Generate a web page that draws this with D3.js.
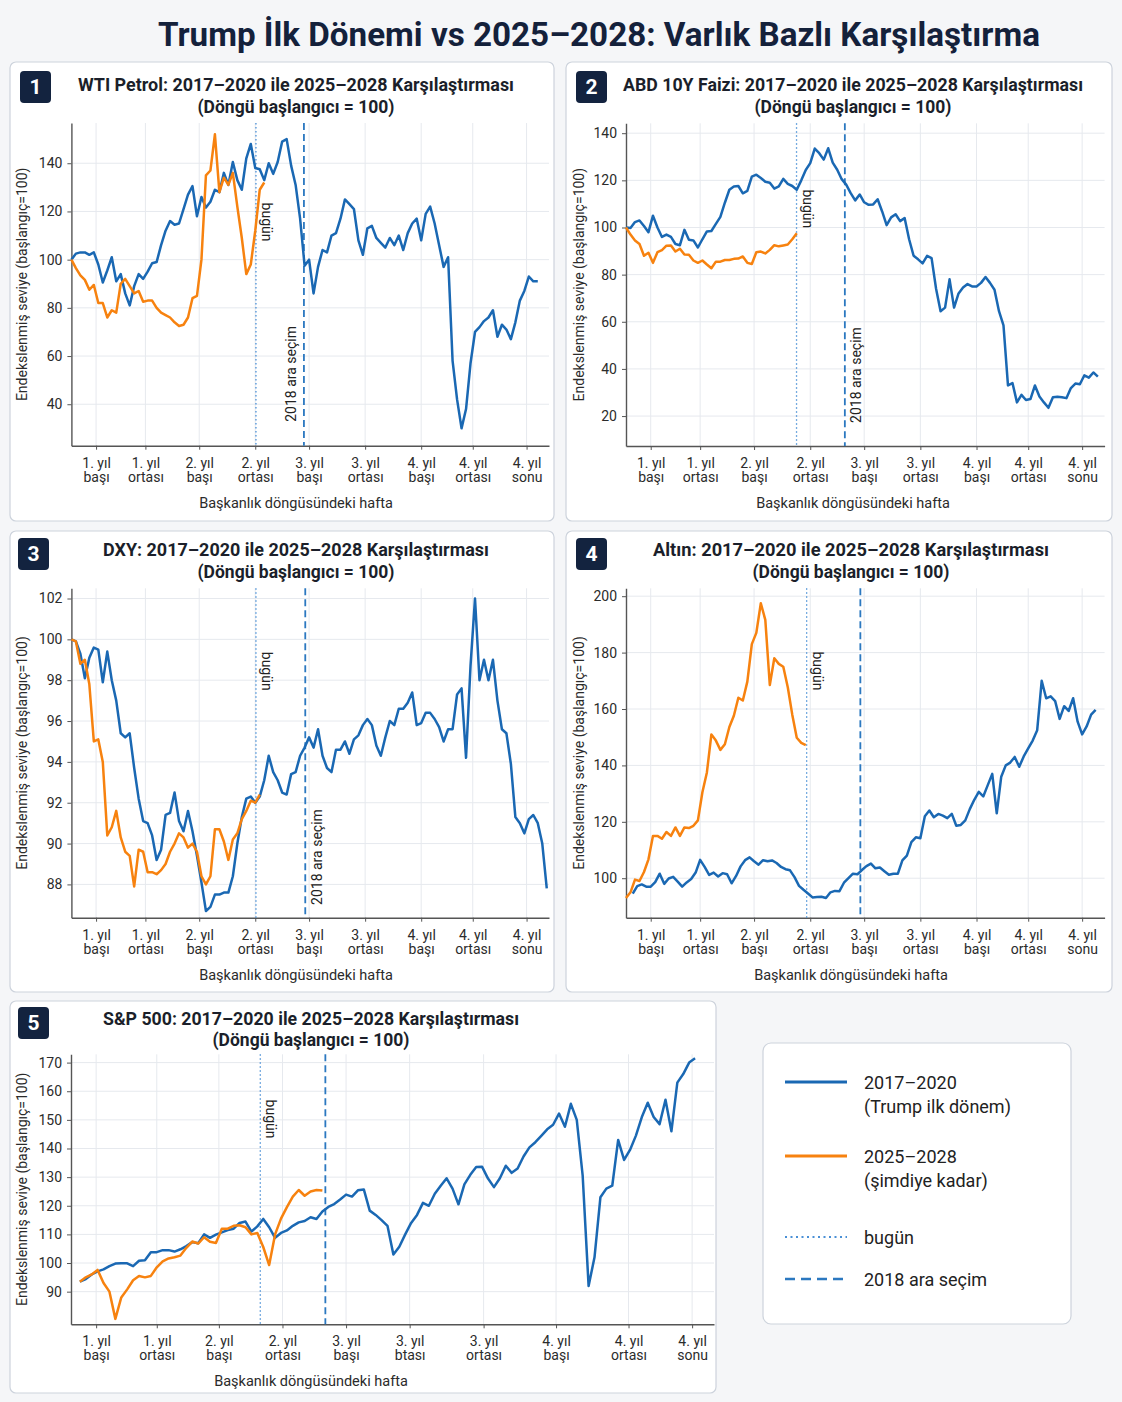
<!DOCTYPE html>
<html lang="tr">
<head>
<meta charset="UTF-8">
<title>Trump İlk Dönemi vs 2025–2028</title>
<script src="https://d3js.org/d3.v7.min.js"></script>
<style>
  body { margin: 0; background: #f5f6f8; }
  svg { display: block; font-family: Roboto, "Noto Sans", sans-serif; }
</style>
</head>
<body>
<script>
// ---- data: indexed level, one value every 2 weeks of the presidential cycle ----
const STEP = 2;

const wtiBlue = [100,102.5,103,103,102,103,98,90.5,95.5,101,91,94,86,81,89,94,92,95,98.5,99,106,112,116,114.5,115,121,127,130.5,118,126,121.6,124,129,128,136,131,140.5,133,129,142,148,138,137.5,133,140,135.6,140.5,149,150,139,131,117,97.5,100,86,97,104,103,110,111,117,125,123,121,108,102,113,114,109,107,105,109,106,110,104,111,115,117,108,119,122,115,106,97,101,58,42,30,38,57,70,72,74.5,76,79,68,73,71,67,74,83,87,93,91,91];
const wtiOrange = [100,96.5,93.5,91.6,87.5,89.5,82,82,76,79,78,90,92,89,86,87,82.5,83,83,80,78,77,76,74,72.5,73,76,84,85,100,135,137,152,128,134,131,136,122,109,94,98,112,129,132];

const yieldBlue = [100,99.8,102.3,103,100.6,98,105,100,96,97,96,93,92.5,99,94.8,94.5,91.5,95,98.3,98.5,101.5,104.5,110.5,116,117.4,117.6,114.5,115.5,121.6,122.4,121,119.4,119,116.5,117.4,120.6,118.5,117.6,116,120,124.4,127.3,133.5,131.5,128.8,133.6,127.5,124.5,120.5,118.2,114.6,111.5,114,110.7,109.6,109.8,112,106.8,101,104.3,105.6,102.7,104,95,88,86.5,84.8,88,87,74,64.5,66,78,66,72,74.5,76,75,75,76.5,79,76.5,73.6,64.5,58.5,33,34,25.8,29,26.8,27.2,33,28.3,25.8,23.5,28,28.2,28,27.6,31.9,33.8,33.5,37.3,36.3,38.5,36.7];
const yieldOrange = [100,97,94.5,93,88,89.3,85,89.5,90.4,92.3,92.4,89.8,91,88.5,88.4,86,85,86,84.3,82.7,85.5,85.5,86.2,86.2,86.7,86.8,87.7,85,84.5,89.5,89.8,89,90.5,92.5,92,92.4,92.8,95,97.6];

const dxyBlue = [100,99.9,99.3,98.1,99.1,99.6,99.5,97.9,99.4,98,97,95.4,95.2,95.4,93.7,92.2,91.1,91,90.4,89.2,89.7,91.4,91.5,92.5,91.1,90.6,91.6,90.6,89.4,88.1,86.7,86.9,87.5,87.5,87.6,87.6,88.4,90,91.3,92.2,92.3,92,92.3,93.1,94.3,93.5,93.1,92.5,92.4,93.4,93.5,94.3,94.7,95.2,94.7,95.6,94.3,93.7,93.5,94.6,94.6,95,94.4,95.1,95.3,95.8,96.1,95.8,94.8,94.3,95.2,96,95.8,96.6,96.6,96.9,97.4,95.8,95.9,96.4,96.4,96.1,95.7,95,95.6,95.6,97.3,97.6,94.2,98.7,102,98,99,98,99,97,95.6,95.4,93.9,91.3,91,90.5,91.2,91.4,91,90,87.8];
const dxyOrange = [100,99.9,98.8,99,97.8,95,95.1,94,90.4,90.8,91.6,90.3,89.6,89.4,87.9,89.7,89.6,88.6,88.6,88.5,88.7,89,89.6,90,90.5,90.3,89.8,90,89.6,88.4,88,88.4,90.7,90.7,90.1,89.2,90.2,90.5,91.2,91.6,92.1,92,92.4];

const goldBlueStart = 3;
const goldBlue = [94.5,97.2,97.8,97,97,98.6,101.6,98,99.9,100.5,98.8,97,98.5,99.7,102,106.5,104,101.2,102,100.6,101.8,101.4,98.2,100.8,104.2,106.4,107.4,106,104.8,106.4,106,106.3,105.4,104,103.2,102.8,100.4,97.3,95.9,94.6,93.2,93.3,93.4,93,95,95.5,95.4,98.4,100,101.6,101.4,102.9,104.3,105.2,103.5,103.8,102.5,101.2,101.6,101.6,106.3,108,112.8,114.5,114.2,122,124,121.6,122.8,122.2,121.3,122.8,118.6,118.9,120.5,124.5,127.8,130.6,129,133,137,123,136,140,141,143,139.5,143.2,146,148.8,152.5,170,163.8,164.5,162.8,156.5,161,159.3,163.8,155.5,151,153.8,158,159.7];
const goldOrange = [93,95,99.5,99,102.2,106.7,115,115,114,116.4,115,118,115,118,117.8,118.6,120.5,130.5,137.5,151,148.8,145.5,147.5,153.6,157.6,164,163,169.7,183,187,197.5,191.6,168.5,178,176,175,167.7,158,149.8,148,147.2];

const spxBlue = [93.5,94.4,96,97.1,97.8,98.9,99.8,99.9,99.9,98.9,100.8,101,103.8,103.8,104.5,104.5,104,104.8,105.9,107.3,106.9,110,108.8,109.9,110.7,111.5,112,114,114.5,111,112.8,115.4,112.5,108.8,110.5,111.4,113,114.2,114.7,116,115.4,118,119.6,120.6,122.2,123.9,123.2,125.4,125.7,118.3,116.8,115,113,103,105.7,110,114,116.8,121,120,124.2,127,129.6,126,120.5,127.5,130.8,133.5,133.6,129.5,126.5,129.6,134,131.5,133,137.2,140.4,142.2,144.4,146.7,148.3,152.2,147.6,155.6,150,130.5,92,102,123,126,127,143,136,139.5,144.5,151,156,151,148.5,157,146,163,166,170,171.5];
const spxOrange = [93.5,95,96,97.6,93,90,80.5,88,90.8,94,95.5,95,95.5,98.5,100.6,101.6,102,102.6,105.3,107.5,106.8,109,107.4,107,112,112,113,113.2,112.5,110,110.5,105.6,99.3,110,115.5,119.5,123.2,125.5,123.5,125,125.5,125.3];

// x ticks (week of the cycle) and their labels
const cycleTicks = [11, 33, 57, 82, 106, 131, 156, 179, 203];
const cycleLabels = [["1. yıl","başı"],["1. yıl","ortası"],["2. yıl","başı"],["2. yıl","ortası"],["3. yıl","başı"],["3. yıl","ortası"],["4. yıl","başı"],["4. yıl","ortası"],["4. yıl","sonu"]];
const spxTicks = [5.5, 26, 47, 68.5, 90, 111.5, 136.5, 161, 185.5, 207];
const spxLabels = [["1. yıl","başı"],["1. yıl","ortası"],["2. yıl","başı"],["2. yıl","ortası"],["3. yıl","başı"],["3. yıl","btası"],["3. yıl","ortası"],["4. yıl","başı"],["4. yıl","ortası"],["4. yıl","sonu"]];

// y ticks
const wtiTicks = [40, 60, 80, 100, 120, 140];
const yieldTicks = [20, 40, 60, 80, 100, 120, 140];
const dxyTicks = [88, 90, 92, 94, 96, 98, 100, 102];
const goldTicks = [100, 120, 140, 160, 180, 200];
const spxTicks_y = [90, 100, 110, 120, 130, 140, 150, 160, 170];

// "bugün" and "2018 ara seçim" weeks for each panel
const todayWeeks = [82.3, 75.9, 82.3, 80.4, 61];
const midtermWeeks = [103.7, 97.4, 104.3, 104.3, 83];

const titles = [
  "WTI Petrol: 2017–2020 ile 2025–2028 Karşılaştırması",
  "ABD 10Y Faizi: 2017–2020 ile 2025–2028 Karşılaştırması",
  "DXY: 2017–2020 ile 2025–2028 Karşılaştırması",
  "Altın: 2017–2020 ile 2025–2028 Karşılaştırması",
  "S&P 500: 2017–2020 ile 2025–2028 Karşılaştırması"
];

const BLUE = "#1a68b3", ORANGE = "#f7820f";
const LINE_TODAY = "#4a90d6", LINE_MID = "#2b78c0";

const svg = d3.select("body").append("svg").attr("width", 1122).attr("height", 1402);
svg.append("rect").attr("width", 1122).attr("height", 1402).attr("fill", "#f5f6f8");

svg.append("text")
  .attr("x", 599).attr("y", 46)
  .attr("text-anchor", "middle")
  .attr("font-size", 34).attr("font-weight", 700).attr("fill", "#14213b")
  .attr("textLength", 882).attr("lengthAdjust", "spacingAndGlyphs")
  .text("Trump İlk Dönemi vs 2025–2028: Varlık Bazlı Karşılaştırma");

const panels = [
  { n: 1, box: [10, 62, 554, 521], badge: [20, 71], titleY: [91, 113], cx: 296,
    plot: [71.4, 549, 123, 445.7], xDomain: [0, 213], yDomain: [22.8, 156.7], yTicks: wtiTicks,
    ticks: cycleTicks, labels: cycleLabels, blue: wtiBlue, blueStart: 0, orange: wtiOrange,
    today: todayWeeks[0], mid: midtermWeeks[0], todayLbl: 115.6, midLbl: [-13, 52.6], yLabelX: 22, tw: 436 },
  { n: 2, box: [566, 62, 1112, 521], badge: [576, 71], titleY: [91, 113], cx: 853,
    plot: [626, 1104.6, 123.3, 446], xDomain: [0, 213], yDomain: [7.3, 144.2], yTicks: yieldTicks,
    ticks: cycleTicks, labels: cycleLabels, blue: yieldBlue, blueStart: 0, orange: yieldOrange,
    today: todayWeeks[1], mid: midtermWeeks[1], todayLbl: 107.9, midLbl: [11, 37.4], yLabelX: 579, tw: 460 },
  { n: 3, box: [10, 531, 554, 992], badge: [18, 538], titleY: [556, 578], cx: 296,
    plot: [71.4, 549, 588.3, 917.7], xDomain: [0, 213], yDomain: [86.37, 102.5], yTicks: dxyTicks,
    ticks: cycleTicks, labels: cycleLabels, blue: dxyBlue, blueStart: 0, orange: dxyOrange,
    today: todayWeeks[2], mid: midtermWeeks[2], todayLbl: 98.44, midLbl: [12, 89.34], yLabelX: 22, tw: 386 },
  { n: 4, box: [566, 531, 1112, 992], badge: [576, 538], titleY: [556, 578], cx: 851,
    plot: [626, 1104.6, 588.3, 917.7], xDomain: [0, 213], yDomain: [86, 202.8], yTicks: goldTicks,
    ticks: cycleTicks, labels: cycleLabels, blue: goldBlue, blueStart: goldBlueStart, orange: goldOrange,
    today: todayWeeks[3], mid: midtermWeeks[3], todayLbl: 173.5, midLbl: null, yLabelX: 579, tw: 396 },
  { n: 5, box: [10, 1001, 716, 1393], badge: [18, 1007], titleY: [1025, 1046], cx: 311,
    plot: [71, 714, 1054.3, 1324.3], xDomain: [-3, 214.4], yDomain: [78.6, 172.9], yTicks: spxTicks_y,
    ticks: spxTicks, labels: spxLabels, blue: spxBlue, blueStart: 0, orange: spxOrange,
    today: todayWeeks[4], mid: midtermWeeks[4], todayLbl: 150.3, midLbl: null, yLabelX: 22, tw: 416 }
];

panels.forEach(drawPanel);

function drawPanel(p) {
  const g = svg.append("g");
  const [bx0, by0, bx1, by1] = p.box;
  const [px0, px1, pyT, pyB] = p.plot;

  g.append("rect")
    .attr("x", bx0).attr("y", by0).attr("width", bx1 - bx0).attr("height", by1 - by0)
    .attr("rx", 6).attr("fill", "#fff").attr("stroke", "#cdd3dc").attr("stroke-width", 1.2);

  g.append("rect")
    .attr("x", p.badge[0]).attr("y", p.badge[1]).attr("width", 31).attr("height", 32)
    .attr("rx", 4).attr("fill", "#13233f");
  g.append("text")
    .attr("x", p.badge[0] + 15.5).attr("y", p.badge[1] + 23)
    .attr("text-anchor", "middle").attr("font-size", 21).attr("font-weight", 700)
    .attr("fill", "#fff").text(p.n);

  g.append("text")
    .attr("x", p.cx).attr("y", p.titleY[0]).attr("text-anchor", "middle")
    .attr("font-size", 17.5).attr("font-weight", 700).attr("fill", "#1b1f2a")
    .attr("textLength", p.tw).attr("lengthAdjust", "spacingAndGlyphs")
    .text(titles[p.n - 1]);
  g.append("text")
    .attr("x", p.cx).attr("y", p.titleY[1]).attr("text-anchor", "middle")
    .attr("font-size", 17.5).attr("font-weight", 700).attr("fill", "#1b1f2a")
    .text("(Döngü başlangıcı = 100)");

  const x = d3.scaleLinear().domain(p.xDomain).range([px0, px1]);
  const y = d3.scaleLinear().domain(p.yDomain).range([pyB, pyT]);

  // grid
  g.append("g").selectAll("line").data(p.yTicks).join("line")
    .attr("x1", px0).attr("x2", px1).attr("y1", d => y(d)).attr("y2", d => y(d))
    .attr("stroke", "#e6e9ee").attr("stroke-width", 1);
  g.append("g").selectAll("line").data(p.ticks).join("line")
    .attr("x1", d => x(d)).attr("x2", d => x(d)).attr("y1", pyT).attr("y2", pyB)
    .attr("stroke", "#e6e9ee").attr("stroke-width", 1);

  // axes
  const ya = g.append("g").attr("transform", `translate(${px0},0)`)
    .call(d3.axisLeft(y).tickValues(p.yTicks).tickSize(4).tickSizeOuter(0).tickPadding(5));
  const xa = g.append("g").attr("transform", `translate(0,${pyB})`)
    .call(d3.axisBottom(x).tickValues(p.ticks).tickSize(4).tickSizeOuter(0));
  [ya, xa].forEach(a => {
    a.select(".domain").attr("stroke", "#555").attr("stroke-width", 1.4);
    a.selectAll(".tick line").attr("stroke", "#555");
    a.selectAll(".tick text").attr("fill", "#2b2b2b").attr("font-size", 14)
      .attr("font-family", "Roboto, sans-serif");
  });
  xa.selectAll(".tick text").each(function (d, i) {
    const t = d3.select(this).text(null).attr("dy", null).attr("y", 22);
    t.append("tspan").attr("x", 0).text(p.labels[i][0]);
    t.append("tspan").attr("x", 0).attr("y", 36).text(p.labels[i][1]);
  });

  g.append("text")
    .attr("x", p.cx).attr("y", pyB + 62).attr("text-anchor", "middle")
    .attr("font-size", 14.5).attr("fill", "#2b2b2b").text("Başkanlık döngüsündeki hafta");
  g.append("text")
    .attr("transform", `translate(${p.yLabelX},${(pyT + pyB) / 2}) rotate(-90)`)
    .attr("text-anchor", "middle").attr("dominant-baseline", "central")
    .attr("font-size", 14).attr("fill", "#2b2b2b").text("Endekslenmiş seviye (başlangıç=100)");

  // reference lines
  g.append("line")
    .attr("x1", x(p.today)).attr("x2", x(p.today)).attr("y1", pyT).attr("y2", pyB)
    .attr("stroke", LINE_TODAY).attr("stroke-width", 1.3).attr("stroke-dasharray", "1.5,2.5");
  g.append("line")
    .attr("x1", x(p.mid)).attr("x2", x(p.mid)).attr("y1", pyT).attr("y2", pyB)
    .attr("stroke", LINE_MID).attr("stroke-width", 1.8).attr("stroke-dasharray", "7,4");

  g.append("text")
    .attr("transform", `translate(${x(p.today) + 11},${y(p.todayLbl)}) rotate(90)`)
    .attr("text-anchor", "middle").attr("dominant-baseline", "central")
    .attr("font-size", 14).attr("fill", "#222").text("bugün");
  if (p.midLbl) {
    g.append("text")
      .attr("transform", `translate(${x(p.mid) + p.midLbl[0]},${y(p.midLbl[1])}) rotate(-90)`)
      .attr("text-anchor", "middle").attr("dominant-baseline", "central")
      .attr("font-size", 14).attr("fill", "#222").text("2018 ara seçim");
  }

  // series
  const line = start => d3.line().x((d, i) => x(start + i * STEP)).y(d => y(d));
  g.append("path").datum(p.blue).attr("d", line(p.blueStart))
    .attr("fill", "none").attr("stroke", BLUE).attr("stroke-width", 2.5)
    .attr("stroke-linejoin", "round");
  g.append("path").datum(p.orange).attr("d", line(0))
    .attr("fill", "none").attr("stroke", ORANGE).attr("stroke-width", 2.5)
    .attr("stroke-linejoin", "round");
}

// legend
const legendItems = [
  { lines: ["2017–2020", "(Trump ilk dönem)"], color: BLUE, dash: null, w: 3, y: 1082 },
  { lines: ["2025–2028", "(şimdiye kadar)"], color: ORANGE, dash: null, w: 3, y: 1156 },
  { lines: ["bugün"], color: LINE_TODAY, dash: "2,3.5", w: 2, y: 1237 },
  { lines: ["2018 ara seçim"], color: LINE_MID, dash: "10,6", w: 2.5, y: 1279 }
];
const lg = svg.append("g");
lg.append("rect").attr("x", 763).attr("y", 1043).attr("width", 308).attr("height", 281)
  .attr("rx", 8).attr("fill", "#fff").attr("stroke", "#cdd3dc").attr("stroke-width", 1.2);
legendItems.forEach(it => {
  lg.append("line").attr("x1", 785).attr("x2", 847).attr("y1", it.y).attr("y2", it.y)
    .attr("stroke", it.color).attr("stroke-width", it.w).attr("stroke-dasharray", it.dash);
  it.lines.forEach((s, k) => {
    lg.append("text").attr("x", 864).attr("y", it.y + 6.5 + k * 24.5)
      .attr("font-size", 18).attr("fill", "#222").text(s);
  });
});
</script>
</body>
</html>
